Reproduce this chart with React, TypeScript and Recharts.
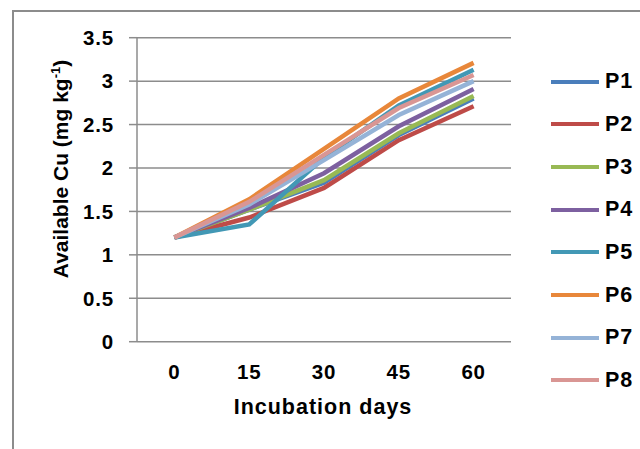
import React from 'react'
import { LineChart, Line, XAxis, YAxis, CartesianGrid, Legend } from 'recharts'

// incubation days (x categories)
const days = [0, 15, 30, 45, 60]
const seriesNames = ['P1', 'P2', 'P3', 'P4', 'P5', 'P6', 'P7', 'P8']
const colors = ['#4a7ebb', '#be4b48', '#98b954', '#7d60a0', '#4298b5', '#e8873a', '#95b3d7', '#d99694']

// available Cu (mg kg-1)
const p1 = [1.2, 1.52, 1.83, 2.38, 2.8]
const p2 = [1.2, 1.43, 1.77, 2.32, 2.71]
const p3 = [1.2, 1.52, 1.86, 2.4, 2.83]
const p4 = [1.2, 1.54, 1.94, 2.48, 2.91]
const p5 = [1.2, 1.35, 2.12, 2.72, 3.13]
const p6 = [1.2, 1.64, 2.22, 2.8, 3.21]
const p7 = [1.2, 1.58, 2.09, 2.61, 3.0]
const p8 = [1.2, 1.61, 2.15, 2.69, 3.07]

const yTicks = [0, 0.5, 1, 1.5, 2, 2.5, 3, 3.5]
// category boundaries for the tick marks between days
const boundaryTicks = [-7.5, 7.5, 22.5, 37.5, 52.5, 67.5]

const allSeries = [p1, p2, p3, p4, p5, p6, p7, p8]
const data = days.map((d, i) => {
  const row: Record<string, number> = { day: d }
  seriesNames.forEach((n, s) => {
    row[n] = allSeries[s][i]
  })
  return row
})

const font = '"Liberation Sans", Arial, sans-serif'
const axisGray = '#8c8c8c'

function LegendContent({ payload }: any) {
  return (
    <div style={{ fontFamily: font, fontWeight: 'bold', fontSize: 21.5 }}>
      {(payload || []).map((p: any) => (
        <div key={p.value} style={{ height: 42.7, display: 'flex', alignItems: 'center' }}>
          <div style={{ width: 48, height: 4, background: p.color, marginRight: 6 }} />
          <span style={{ letterSpacing: 1 }}>{p.value}</span>
        </div>
      ))}
    </div>
  )
}

export default function App() {
  const tickStyle = { fill: '#000', fontSize: 20.5, fontWeight: 'bold', fontFamily: font, letterSpacing: 0.8 }
  return (
    <div
      style={{
        position: 'absolute',
        left: 0,
        top: 0,
        width: 640,
        height: 449,
        background: '#fff',
        overflow: 'hidden',
      }}
    >
      <div
        style={{
          position: 'absolute',
          left: 12,
          top: 10,
          width: 700,
          height: 500,
          borderLeft: `2px solid ${axisGray}`,
          borderTop: `2px solid ${axisGray}`,
        }}
      />
      <LineChart
        width={640}
        height={449}
        data={data}
        margin={{ top: 37.7, right: 129, bottom: 77.3, left: 77 }}
        style={{ position: 'absolute', left: 0, top: 0 }}
      >
        <CartesianGrid vertical={false} stroke={axisGray} strokeWidth={1.5} />
        <XAxis
          xAxisId="b"
          dataKey="day"
          type="number"
          domain={[-7.5, 67.5]}
          ticks={boundaryTicks}
          tick={false}
          tickSize={8}
          height={0}
          stroke={axisGray}
          strokeWidth={1.5}
        />
        <XAxis
          dataKey="day"
          type="number"
          domain={[-7.5, 67.5]}
          ticks={days}
          axisLine={false}
          tickLine={false}
          tickSize={6}
          tickMargin={17}
          height={30}
          tick={tickStyle}
          interval={0}
        />
        <YAxis
          width={60}
          domain={[0, 3.5]}
          ticks={yTicks}
          interval={0}
          tickSize={8}
          tickMargin={15}
          stroke={axisGray}
          strokeWidth={1.5}
          tick={tickStyle}
        />
        <Legend
          layout="vertical"
          verticalAlign="middle"
          align="center"
          content={<LegendContent />}
          wrapperStyle={{ left: 551, top: 60.3, width: 85 }}
        />
        {seriesNames.map((n, i) => (
          <Line
            key={n}
            dataKey={n}
            stroke={colors[i]}
            strokeWidth={4.5}
            dot={false}
            type="linear"
            isAnimationActive={false}
          />
        ))}
      </LineChart>
      <div
        style={{
          position: 'absolute',
          left: 232,
          top: 395,
          width: 182,
          textAlign: 'center',
          fontFamily: font,
          fontWeight: 'bold',
          fontSize: 21.5,
          letterSpacing: 1,
          whiteSpace: 'nowrap',
        }}
      >
        Incubation days
      </div>
      <div
        style={{
          position: 'absolute',
          left: 60,
          top: 169,
          transform: 'translate(-50%, -50%) rotate(-90deg)',
          fontFamily: font,
          fontWeight: 'bold',
          fontSize: 21,
          whiteSpace: 'nowrap',
        }}
      >
        Available Cu (mg kg<sup style={{ fontSize: 13 }}>-1</sup>)
      </div>
    </div>
  )
}
